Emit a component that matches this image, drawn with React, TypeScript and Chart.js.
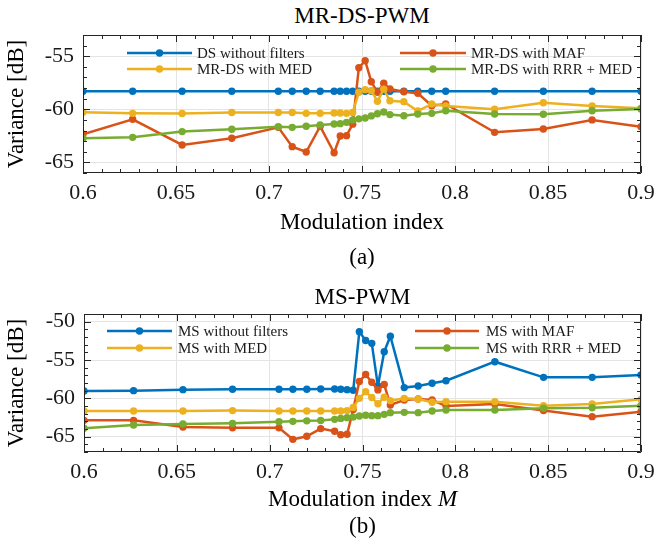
import React, { useEffect, useRef } from "react";
import { Chart, registerables } from "chart.js";

Chart.register(...registerables);

// Modulation indices shared by every curve
const MOD_INDEX = [
  0.6, 0.6267, 0.6533, 0.68, 0.705, 0.7125, 0.72, 0.7275, 0.735, 0.7383, 0.7417, 0.745, 0.7483,
  0.7517, 0.755, 0.7583, 0.7617, 0.765, 0.7725, 0.78, 0.7875, 0.795, 0.8213, 0.8475, 0.8737, 0.9,
];

// MR-DS-PWM variances [dB]
const DS_NO_FILTER = [
  -58.3, -58.3, -58.3, -58.3, -58.3, -58.3, -58.3, -58.3, -58.3, -58.3, -58.3, -58.3, -58.3,
  -58.3, -58.3, -58.3, -58.3, -58.3, -58.3, -58.3, -58.3, -58.3, -58.3, -58.3, -58.3, -58.3,
];
const MRDS_MAF = [
  -62.35, -60.94, -63.36, -62.73, -61.7, -63.52, -64.02, -61.6, -64.09, -62.51, -62.48, -61.4, -56.08,
  -55.42, -57.4, -58.4, -57.55, -58.09, -58.34, -58.49, -59.66, -59.5, -62.17, -61.86, -61.0, -61.64,
];
const MRDS_MED = [
  -60.28, -60.38, -60.4, -60.3, -60.3, -60.3, -60.38, -60.38, -60.35, -60.35, -60.38, -60.3, -58.4,
  -58.15, -58.25, -59.25, -58.1, -59.2, -59.28, -60.16, -59.5, -59.69, -60.0, -59.38, -59.69, -59.9,
];
const MRDS_RRR_MED = [
  -62.73, -62.64, -62.1, -61.88, -61.64, -61.7, -61.6, -61.48, -61.38, -61.35, -61.23, -61.0, -60.9,
  -60.82, -60.62, -60.42, -60.25, -60.5, -60.6, -60.45, -60.38, -60.13, -60.44, -60.47, -60.13, -59.97,
];

// MS-PWM variances [dB]
const MS_NO_FILTER = [
  -59.04, -59.0, -58.87, -58.82, -58.82, -58.82, -58.82, -58.78, -58.78, -58.82, -58.87, -58.95, -51.3,
  -52.45, -52.83, -58.4, -53.92, -51.9, -58.6, -58.39, -58.04, -57.7, -55.22, -57.26, -57.26, -56.96,
];
const MS_MAF = [
  -62.87, -62.87, -63.75, -63.85, -63.85, -65.35, -64.95, -63.95, -64.3, -64.75, -64.68, -61.45, -57.8,
  -56.9, -57.9, -58.9, -58.2, -60.87, -60.22, -60.09, -60.22, -61.0, -60.74, -61.6, -62.39, -61.74,
];
const MS_MED = [
  -61.65, -61.65, -61.65, -61.6, -61.65, -61.65, -61.65, -61.65, -61.65, -61.65, -61.6, -61.2, -60.0,
  -59.13, -59.9, -60.7, -59.85, -60.3, -60.0, -60.09, -60.52, -60.43, -60.43, -60.96, -60.74, -60.13,
];
const MS_RRR_MED = [
  -63.91, -63.48, -63.35, -63.26, -63.05, -63.0, -62.94, -62.9, -62.74, -62.62, -62.52, -62.45, -62.3,
  -62.2, -62.26, -62.26, -62.09, -61.87, -61.83, -61.87, -61.65, -61.52, -61.52, -61.3, -61.22, -60.96,
];

const X_TICKS = [0.6, 0.65, 0.7, 0.75, 0.8, 0.85, 0.9];
const Y_TICKS_A = [-65, -60, -55];
const Y_TICKS_B = [-65, -60, -55, -50];

const BLUE = "#0072BD";
const ORANGE = "#D95319";
const YELLOW = "#EDB120";
const GREEN = "#77AC30";

const SERIF = "'Liberation Serif', 'Times New Roman', serif";
const INK = "#1a1a1a";

type Series = { label: string; data: number[]; color: string };

type LegendLayout = {
  cols: { lineStart: number; lineEnd: number; text: number }[];
  rows: number[];
};

// Box, inward major/minor ticks on all four sides
const framePlugin = {
  id: "frame",
  afterDatasetsDraw(chart: any) {
    const { ctx, chartArea: a, scales } = chart;
    const x = scales.x;
    const y = scales.y;
    ctx.save();
    ctx.strokeStyle = "#262626";
    ctx.lineWidth = 1;
    ctx.beginPath();
    ctx.rect(a.left + 0.5, a.top + 0.5, a.right - a.left - 1, a.bottom - a.top - 1);
    ctx.stroke();

    const major = 7;
    const minor = 4;
    ctx.beginPath();
    const nx = Math.round((x.max - x.min) / 0.01);
    for (let k = 0; k <= nx; k++) {
      const v = x.min + k * 0.01;
      const px = Math.round(x.getPixelForValue(v)) + 0.5;
      const len = k % 5 === 0 ? major : minor;
      ctx.moveTo(px, a.bottom);
      ctx.lineTo(px, a.bottom - len);
      ctx.moveTo(px, a.top);
      ctx.lineTo(px, a.top + len);
    }
    for (let v = Math.ceil(y.min); v <= Math.floor(y.max); v++) {
      const py = Math.round(y.getPixelForValue(v)) + 0.5;
      const len = v % 5 === 0 ? major : minor;
      ctx.moveTo(a.left, py);
      ctx.lineTo(a.left + len, py);
      ctx.moveTo(a.right, py);
      ctx.lineTo(a.right - len, py);
    }
    ctx.stroke();
    ctx.restore();
  },
};

// Two-column legend drawn inside the axes, filled row by row
const legendPlugin = {
  id: "insetLegend",
  afterDraw(chart: any, _args: any, opts: any) {
    const layout: LegendLayout = opts.layout;
    if (!layout) return;
    const { ctx, chartArea: a } = chart;
    ctx.save();
    ctx.font = `15px ${SERIF}`;
    ctx.textBaseline = "middle";
    ctx.textAlign = "left";
    chart.data.datasets.forEach((ds: any, i: number) => {
      const col = layout.cols[i % 2];
      const yy = a.top + layout.rows[Math.floor(i / 2)];
      const x1 = a.left + col.lineStart;
      const x2 = a.left + col.lineEnd;
      ctx.strokeStyle = ds.borderColor;
      ctx.lineWidth = 2.5;
      ctx.beginPath();
      ctx.moveTo(x1, yy);
      ctx.lineTo(x2, yy);
      ctx.stroke();
      ctx.fillStyle = ds.borderColor;
      ctx.beginPath();
      ctx.arc((x1 + x2) / 2, yy, 3.7, 0, Math.PI * 2);
      ctx.fill();
      ctx.fillStyle = INK;
      ctx.fillText(ds.label, a.left + col.text, yy + 1);
    });
    ctx.restore();
  },
};

type PanelProps = {
  series: Series[];
  yMin: number;
  yMax: number;
  yTicks: number[];
  axisWidth: number;
  legend: LegendLayout;
  width: number;
  height: number;
};

function PwmPanel(props: PanelProps) {
  const ref = useRef<HTMLCanvasElement | null>(null);

  useEffect(() => {
    if (!ref.current) return;
    const { series, yMin, yMax, yTicks, axisWidth, legend, width } = props;
    const chart = new Chart(ref.current, {
      type: "line",
      data: {
        datasets: series.map((s, i) => ({
          label: s.label,
          data: MOD_INDEX.map((m, k) => ({ x: m, y: s.data[k] })),
          borderColor: s.color,
          backgroundColor: s.color,
          pointBackgroundColor: s.color,
          pointBorderWidth: 0,
          pointRadius: 3.7,
          borderWidth: 2.5,
          tension: 0,
          fill: false,
          order: series.length - i,
        })),
      },
      options: {
        animation: false,
        responsive: false,
        devicePixelRatio: 1,
        layout: { padding: { left: 0, right: width - 641, top: 35, bottom: 0 } },
        plugins: {
          legend: { display: false },
          tooltip: { enabled: false },
          title: { display: false },
          insetLegend: { layout: legend },
        } as any,
        scales: {
          x: {
            type: "linear",
            min: 0.6,
            max: 0.9,
            afterBuildTicks: (scale: any) => {
              scale.ticks = X_TICKS.map((v) => ({ value: v }));
            },
            afterFit: (scale: any) => {
              scale.height = 42;
            },
            grid: { color: "#e4e4e4", lineWidth: 1, drawTicks: false },
            border: { display: false },
            ticks: {
              autoSkip: false,
              maxRotation: 0,
              padding: 7,
              color: INK,
              font: { family: SERIF, size: 22 },
              callback: (v: any) => String(Math.round(Number(v) * 100) / 100),
            },
          },
          y: {
            type: "linear",
            min: yMin,
            max: yMax,
            afterBuildTicks: (scale: any) => {
              scale.ticks = yTicks.map((v) => ({ value: v }));
            },
            afterFit: (scale: any) => {
              scale.width = axisWidth;
            },
            grid: { color: "#e4e4e4", lineWidth: 1, drawTicks: false },
            border: { display: false },
            ticks: {
              padding: 9,
              color: INK,
              font: { family: SERIF, size: 22 },
              callback: (v: any) => String(v),
            },
            title: {
              display: true,
              text: "Variance [dB]",
              color: "#000",
              font: { family: SERIF, size: 23 },
              padding: { top: 3, bottom: 0 },
            },
          },
        },
      } as any,
      plugins: [framePlugin, legendPlugin],
    });
    return () => chart.destroy();
  }, []);

  return (
    <canvas
      ref={ref}
      width={props.width}
      height={props.height}
      style={{ width: props.width, height: props.height, display: "block" }}
    />
  );
}

const textStyle: React.CSSProperties = {
  position: "absolute",
  fontFamily: SERIF,
  fontSize: 23,
  lineHeight: "26px",
  color: "#000",
  textAlign: "center",
  whiteSpace: "nowrap",
};

export default function App() {
  const W = 668;
  const H = 215;
  const seriesA: Series[] = [
    { label: "DS without filters", data: DS_NO_FILTER, color: BLUE },
    { label: "MR-DS with MAF", data: MRDS_MAF, color: ORANGE },
    { label: "MR-DS with MED", data: MRDS_MED, color: YELLOW },
    { label: "MR-DS with RRR + MED", data: MRDS_RRR_MED, color: GREEN },
  ];
  const seriesB: Series[] = [
    { label: "MS without filters", data: MS_NO_FILTER, color: BLUE },
    { label: "MS with MAF", data: MS_MAF, color: ORANGE },
    { label: "MS with MED", data: MS_MED, color: YELLOW },
    { label: "MS with RRR + MED", data: MS_RRR_MED, color: GREEN },
  ];
  const legendA: LegendLayout = {
    cols: [
      { lineStart: 44, lineEnd: 109, text: 114 },
      { lineStart: 317, lineEnd: 383, text: 388 },
    ],
    rows: [18, 34],
  };
  const legendB: LegendLayout = {
    cols: [
      { lineStart: 23, lineEnd: 88, text: 94 },
      { lineStart: 331, lineEnd: 395, text: 402 },
    ],
    rows: [17, 34],
  };

  return (
    <div
      style={{
        position: "fixed",
        left: 0,
        top: 0,
        width: W,
        height: 542,
        background: "#fff",
        overflow: "hidden",
      }}
    >
      <div style={{ ...textStyle, left: 83, width: 558, top: 3 }}>MR-DS-PWM</div>
      <div style={{ position: "absolute", left: 0, top: 0 }}>
        <PwmPanel
          series={seriesA}
          yMin={-66}
          yMax={-53}
          yTicks={Y_TICKS_A}
          axisWidth={83}
          legend={legendA}
          width={W}
          height={H}
        />
      </div>
      <div style={{ ...textStyle, left: 83, width: 558, top: 209 }}>Modulation index</div>
      <div style={{ ...textStyle, left: 83, width: 558, top: 244 }}>(a)</div>

      <div style={{ ...textStyle, left: 84, width: 557, top: 284 }}>MS-PWM</div>
      <div style={{ position: "absolute", left: 0, top: 279 }}>
        <PwmPanel
          series={seriesB}
          yMin={-67}
          yMax={-49}
          yTicks={Y_TICKS_B}
          axisWidth={84}
          legend={legendB}
          width={W}
          height={H}
        />
      </div>
      <div style={{ ...textStyle, left: 84, width: 557, top: 486 }}>
        Modulation index <i>M</i>
      </div>
      <div style={{ ...textStyle, left: 84, width: 557, top: 513 }}>(b)</div>
    </div>
  );
}
